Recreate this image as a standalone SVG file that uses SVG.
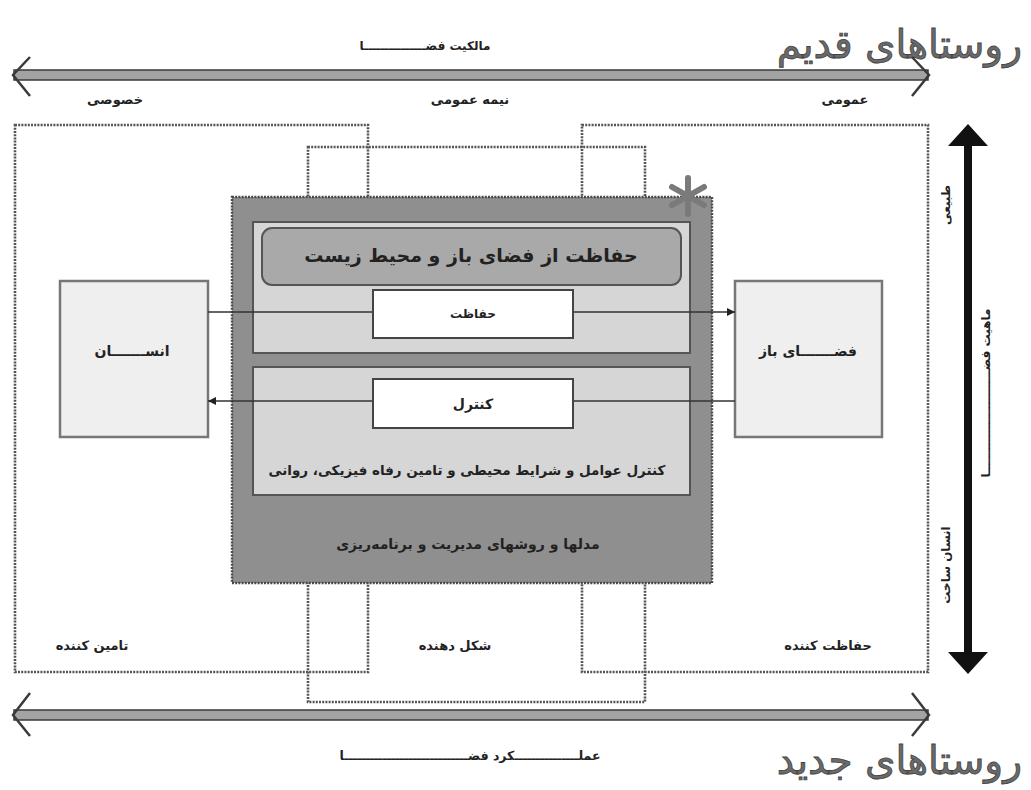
<svg xmlns="http://www.w3.org/2000/svg" width="1031" height="790" viewBox="0 0 1031 790">
<defs>
<style>
.t{font-family:"DejaVu Sans",sans-serif;fill:#222;text-anchor:middle;font-weight:bold}
.dot{fill:none;stroke:#555;stroke-width:2.6;stroke-dasharray:2 1.2}
.panel{fill:#d6d6d6;stroke:#555;stroke-width:2}
.wbox{fill:#fff;stroke:#444;stroke-width:2}
.node{fill:#efefef;stroke:#777;stroke-width:2.5}
.conn{stroke:#333;stroke-width:1.3;fill:none}
.shaft{fill:#a3a3a3;stroke:#3a3a3a;stroke-width:1.5}
.chev{fill:none;stroke:#3a3a3a;stroke-width:2.5}
.title{font-family:"DejaVu Sans",sans-serif;fill:#6a6a6a;stroke:#444;stroke-width:0.8;font-size:39px;text-anchor:end}
</style>
<marker id="ah" viewBox="0 0 10 10" refX="10" refY="5" markerWidth="8" markerHeight="8" markerUnits="userSpaceOnUse" orient="auto">
<path d="M0,0 L10,5 L0,10 z" fill="#222"/>
</marker>
</defs>
<rect width="1031" height="790" fill="#fff"/>

<g id="title-old"><text class="title" x="1022" y="58">روستاهای قدیم</text></g>
<g id="title-new"><text class="title" x="1022" y="774">روستاهای جدید</text></g>

<g id="axis-top">
<rect class="shaft" x="14" y="70" width="914" height="10"/>
<path class="chev" d="M30,57 L13,75 L30,96"/>
<path class="chev" d="M912,57 L929,75 L912,96"/>
<text class="t" x="425" y="50" font-size="12">مالکیت فضـــــــــــــــا</text>
<text class="t" x="115" y="104" font-size="13">خصوصی</text>
<text class="t" x="470" y="104" font-size="13">نیمه عمومی</text>
<text class="t" x="845" y="104" font-size="13">عمومی</text>
</g>

<g id="axis-bottom">
<rect class="shaft" x="14" y="710" width="914" height="10"/>
<path class="chev" d="M30,693 L13,715 L30,736"/>
<path class="chev" d="M912,693 L929,715 L912,736"/>
<text class="t" x="470" y="760" font-size="12.5">عملـــــــــــــــکرد فضـــــــــــــــــــــــــــــا</text>
</g>

<g id="axis-right">
<rect x="964" y="142" width="8" height="516" fill="#111"/>
<path d="M968,124 L988,146 L948,146 z" fill="#111"/>
<path d="M968,674 L988,652 L948,652 z" fill="#111"/>
<text class="t" font-size="12" transform="translate(950,205) rotate(-90)">طبیعی</text>
<text class="t" font-size="12" transform="translate(990,393) rotate(-90)">ماهیت فضـــــــــــــــــــــــــا</text>
<text class="t" font-size="12" transform="translate(950,565) rotate(-90)">انسان ساخت</text>
</g>

<g id="zone-provider">
<rect class="dot" x="15" y="125" width="353" height="547"/>
<text class="t" x="92" y="650" font-size="13">تامین کننده</text>
</g>
<g id="zone-protector">
<rect class="dot" x="582" y="125" width="346" height="547"/>
<text class="t" x="828" y="650" font-size="13">حفاظت کننده</text>
</g>
<g id="zone-shaper">
<rect class="dot" x="308" y="147" width="337" height="555"/>
<text class="t" x="455" y="650" font-size="13">شکل دهنده</text>
</g>

<g id="core">
<rect x="232" y="197" width="480" height="386" fill="#8f8f8f" stroke="#4a4a4a" stroke-width="2.4" stroke-dasharray="2 1.2"/>
<g stroke="#7a7a7a" stroke-width="6" stroke-linecap="round">
<line x1="688" y1="178" x2="688" y2="214"/>
<line x1="672" y1="187" x2="704" y2="205"/>
<line x1="672" y1="205" x2="704" y2="187"/>
</g>
<rect class="panel" x="253" y="222" width="437" height="131"/>
<rect x="262" y="228" width="419" height="57" rx="10" fill="#a9a9a9" stroke="#555" stroke-width="2"/>
<text class="t" x="471" y="262" font-size="19">حفاظت از فضای باز و محیط زیست</text>
<rect class="panel" x="253" y="367" width="437" height="128"/>
<text class="t" x="467" y="475" font-size="13.5" font-weight="normal">کنترل عوامل و شرایط محیطی و تامین رفاه فیزیکی، روانی</text>
<text class="t" x="468" y="549" font-size="14" font-weight="normal">مدلها و روشهای مدیریت و برنامه‌ریزی</text>
</g>

<g id="node-human">
<rect class="node" x="60" y="281" width="148" height="156"/>
<text class="t" x="132" y="356" font-size="14">انســـــــان</text>
</g>
<g id="node-open">
<rect class="node" x="735" y="281" width="147" height="156"/>
<text class="t" x="808" y="356" font-size="14">فضـــــــای باز</text>
</g>

<g id="connectors">
<line class="conn" x1="208" y1="312" x2="735" y2="312" marker-end="url(#ah)"/>
<line class="conn" x1="735" y1="401" x2="208" y2="401" marker-end="url(#ah)"/>
</g>

<g id="box-protect">
<rect class="wbox" x="373" y="290" width="200" height="48"/>
<text class="t" x="473" y="318" font-size="12" font-weight="normal">حفاظت</text>
</g>
<g id="box-control">
<rect class="wbox" x="373" y="379" width="200" height="49"/>
<text class="t" x="473" y="409" font-size="14" font-weight="normal">کنترل</text>
</g>
</svg>
